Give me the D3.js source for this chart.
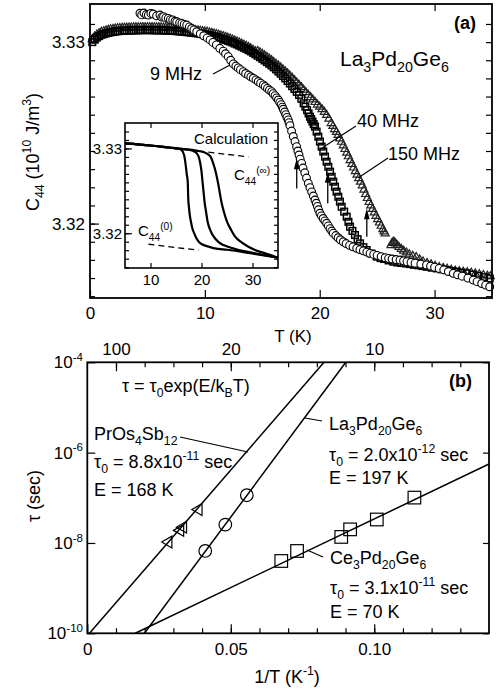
<!DOCTYPE html>
<html>
<head>
<meta charset="utf-8">
<script src="https://cdn.jsdelivr.net/npm/d3@7"></script>
<style>
  body { margin: 0; background: #fff; }
  svg text { font-family: "Liberation Sans", Arial, sans-serif; fill: #000; white-space: pre; }
  .axis path { display: none; }
  .axis line { stroke: #000; stroke-width: 1.2; }
</style>
</head>
<body>
<div id="chart"></div>
<script>
// ---------- panel (a) data : C44 (10^10 J/m^3) vs T (K) ----------
var mhz9T = [4.35, 4.5, 4.7, 4.9, 5.08, 5.3, 5.5, 5.8, 6.09, 6.25, 6.4, 6.6, 6.82, 7.0, 7.2, 7.4, 7.55, 7.8, 8.0,
  8.2, 8.42, 8.65, 8.85, 9.05, 9.29, 9.6, 9.9, 10.2, 10.45, 10.7, 11.0, 11.3, 11.6, 11.8, 12.04, 12.25, 12.48,
  12.7, 12.9, 13.1, 13.35, 13.55, 13.8, 14.0, 14.22, 14.45, 14.65, 14.85, 15.09, 15.25, 15.45, 15.62, 15.82,
  15.95, 16.11, 16.25, 16.4, 16.52, 16.65, 16.75, 16.83, 16.95, 17.05, 17.15, 17.26, 17.33, 17.41, 17.55, 17.7,
  17.85, 17.99, 18.1, 18.2, 18.3, 18.43, 18.55, 18.7, 18.85, 19.01, 19.15, 19.3, 19.45, 19.59, 19.7, 19.8, 19.9,
  20.02, 20.15, 20.3, 20.45, 20.6, 20.75, 20.9, 21.05, 21.18, 21.4, 21.6, 21.8, 22.05, 22.3, 22.6, 22.9, 23.22,
  23.5, 23.8, 24.1, 24.38, 24.7, 25.0, 25.35, 25.7, 26.0, 26.3, 26.65, 26.99, 27.3, 27.6, 27.95, 28.3, 28.8,
  29.3, 29.65, 30.0, 30.4, 30.8, 31.2, 31.63, 32.0, 32.4, 32.9, 33.37, 33.7, 34.1, 34.45, 34.8];
var mhz9C = [3.33159, 3.33150, 3.33160, 3.33152, 3.33149, 3.33158, 3.33155, 3.33145, 3.33149, 3.33138, 3.33140,
  3.33133, 3.33131, 3.33124, 3.33122, 3.33115, 3.33112, 3.33106, 3.33103, 3.33098, 3.33094, 3.33084, 3.33075,
  3.33067, 3.33057, 3.33046, 3.33035, 3.33023, 3.33012, 3.32998, 3.32985, 3.32966, 3.32950, 3.32936, 3.32920,
  3.32900, 3.32880, 3.32868, 3.32858, 3.32848, 3.32837, 3.32827, 3.32818, 3.32809, 3.32801, 3.32792, 3.32783,
  3.32774, 3.32764, 3.32755, 3.32745, 3.32736, 3.32727, 3.32716, 3.32705, 3.32693, 3.32681, 3.32668, 3.32655,
  3.32642, 3.32630, 3.32615, 3.32600, 3.32585, 3.32571, 3.32556, 3.32540, 3.32510, 3.32480, 3.32452, 3.32424,
  3.32400, 3.32378, 3.32355, 3.32332, 3.32306, 3.32280, 3.32251, 3.32222, 3.32198, 3.32175, 3.32152, 3.32130,
  3.32112, 3.32095, 3.32076, 3.32057, 3.32042, 3.32028, 3.32015, 3.32002, 3.31987, 3.31972, 3.31959, 3.31947,
  3.31934, 3.31922, 3.31911, 3.31900, 3.31890, 3.31880, 3.31872, 3.31864, 3.31857, 3.31850, 3.31843, 3.31836,
  3.31830, 3.31825, 3.31818, 3.31812, 3.31808, 3.31805, 3.31802, 3.31799, 3.31795, 3.31790, 3.31786, 3.31782,
  3.31777, 3.31772, 3.31766, 3.31760, 3.31753, 3.31745, 3.31736, 3.31726, 3.31718, 3.31710, 3.31700, 3.31689,
  3.31680, 3.31670, 3.31661, 3.31652];

// low-T band readings shared by the 40 MHz and 150 MHz runs
var bandT = [0.2, 0.4, 0.6, 0.8, 1.0, 1.2, 1.4, 1.6, 1.8, 2.0, 2.2, 2.4, 2.6, 2.8, 3.0, 3.2, 3.4, 3.6, 3.8, 4.0,
  4.2, 4.4, 4.6, 4.8, 5.0, 5.2, 5.4, 5.6, 5.8, 6.0, 6.2, 6.4, 6.6, 6.8, 7.0, 7.2, 7.4, 7.6, 7.8, 8.0, 8.2, 8.4,
  8.6, 8.8, 9.0, 9.2, 9.4, 9.6, 9.8, 10.0, 10.2, 10.4, 10.6, 10.8, 11.0, 11.2, 11.4, 11.6, 11.8, 12.0, 12.2,
  12.4, 12.6, 12.8, 13.0, 13.2, 13.4, 13.6, 13.8, 14.0, 14.2, 14.4];

var mhz40T = bandT.concat([14.6, 14.8, 15.0, 15.2, 15.4, 15.6, 15.8, 16.0, 16.2, 16.4, 16.6, 16.8, 17.0, 17.2,
  17.4, 17.6, 17.8, 18.0, 18.2, 18.4, 18.6, 18.75, 18.9, 19.03, 19.15, 19.26, 19.37, 19.48, 19.59, 19.73, 19.88,
  20.02, 20.17, 20.31, 20.46, 20.6, 20.75, 20.9, 21.04, 21.18, 21.33, 21.47, 21.62, 21.76, 21.91, 22.13, 22.35,
  22.5, 22.64, 22.85, 23.07, 23.3, 23.51, 23.8, 24.09, 24.5, 24.96, 25.3, 25.6, 26.0, 26.41, 26.75, 27.1, 27.5,
  27.86, 28.2, 28.6, 28.95, 29.31, 29.75, 30.2, 30.6, 31.05, 31.5, 31.9, 32.35, 32.8, 33.3, 33.8, 34.3, 34.8]);
var mhz40C = [3.33000, 3.33014, 3.33025, 3.33033, 3.33040, 3.33044, 3.33048, 3.33051, 3.33054, 3.33056, 3.33058,
  3.33060, 3.33061, 3.33062, 3.33063, 3.33063, 3.33064, 3.33064, 3.33065, 3.33065, 3.33065, 3.33066, 3.33066,
  3.33066, 3.33066, 3.33066, 3.33066, 3.33065, 3.33065, 3.33065, 3.33065, 3.33064, 3.33064, 3.33063, 3.33062,
  3.33062, 3.33061, 3.33060, 3.33059, 3.33058, 3.33057, 3.33055, 3.33054, 3.33052, 3.33051, 3.33049, 3.33048,
  3.33046, 3.33044, 3.33042, 3.33040, 3.33037, 3.33034, 3.33031, 3.33028, 3.33024, 3.33020, 3.33016, 3.33012,
  3.33007, 3.33003, 3.32998, 3.32992, 3.32987, 3.32981, 3.32975, 3.32969, 3.32963, 3.32956, 3.32949, 3.32941,
  3.32933,
  3.32925, 3.32917, 3.32908, 3.32899, 3.32890, 3.32881, 3.32871, 3.32861, 3.32850, 3.32838, 3.32826, 3.32813,
  3.32800, 3.32786, 3.32772, 3.32757, 3.32742, 3.32726, 3.32709, 3.32688, 3.32663, 3.32644, 3.32625, 3.32607,
  3.32589, 3.32576, 3.32562, 3.32548, 3.32534, 3.32507, 3.32479, 3.32452, 3.32424, 3.32397, 3.32369, 3.32341,
  3.32313, 3.32286, 3.32258, 3.32231, 3.32203, 3.32176, 3.32148, 3.32121, 3.32093, 3.32066, 3.32038, 3.32010,
  3.31983, 3.31960, 3.31937, 3.31914, 3.31891, 3.31870, 3.31854, 3.31835, 3.31818, 3.31810, 3.31805, 3.31797,
  3.31790, 3.31786, 3.31783, 3.31780, 3.31777, 3.31773, 3.31770, 3.31766, 3.31762, 3.31757, 3.31753, 3.31748,
  3.31744, 3.31739, 3.31735, 3.31730, 3.31726, 3.31719, 3.31712, 3.31705, 3.31698];

var mhz150T = bandT.concat([14.6, 14.8, 15.0, 15.2, 15.4, 15.6, 15.8, 16.0, 16.2, 16.4, 16.6, 16.8, 17.0, 17.2,
  17.4, 17.6, 17.8, 18.0, 18.2, 18.4, 18.6, 18.8, 19.0, 19.2, 19.4, 19.6, 19.8, 20.0, 20.2, 20.4, 20.6, 20.8,
  21.0, 21.15, 21.3, 21.45, 21.6, 21.75, 21.9, 22.05, 22.2, 22.35, 22.5, 22.65, 22.8, 22.95, 23.1, 23.25, 23.4,
  23.55, 23.7, 23.85, 24.0, 24.15, 24.3, 24.45, 24.6, 24.75, 24.9, 25.05, 25.2, 25.35, 25.5, 25.6, 25.7,
  26.2, 26.3, 26.4, 26.5, 26.6, 26.75, 26.9, 27.1, 27.3, 27.55, 27.8, 28.1, 28.4, 28.7, 29.0, 29.35, 29.7,
  30.05, 30.4, 30.75, 31.1, 31.45, 31.8, 32.15, 32.5, 32.85, 33.2, 33.55, 33.9, 34.25, 34.6, 34.85]);
var mhz150C = [3.33016, 3.33030, 3.33041, 3.33049, 3.33056, 3.33060, 3.33064, 3.33067, 3.33070, 3.33072, 3.33074,
  3.33076, 3.33077, 3.33078, 3.33079, 3.33079, 3.33080, 3.33080, 3.33081, 3.33081, 3.33081, 3.33082, 3.33082,
  3.33082, 3.33082, 3.33082, 3.33082, 3.33081, 3.33081, 3.33081, 3.33081, 3.33080, 3.33080, 3.33079, 3.33078,
  3.33078, 3.33077, 3.33076, 3.33075, 3.33074, 3.33073, 3.33071, 3.33070, 3.33068, 3.33067, 3.33065, 3.33064,
  3.33062, 3.33060, 3.33058, 3.33056, 3.33053, 3.33050, 3.33047, 3.33044, 3.33040, 3.33036, 3.33032, 3.33028,
  3.33023, 3.33019, 3.33014, 3.33008, 3.33003, 3.32997, 3.32991, 3.32985, 3.32979, 3.32972, 3.32965, 3.32957,
  3.32949,
  3.32950, 3.32943, 3.32935, 3.32927, 3.32918, 3.32909, 3.32900, 3.32890, 3.32880, 3.32870, 3.32860, 3.32849,
  3.32838, 3.32827, 3.32815, 3.32803, 3.32790, 3.32777, 3.32764, 3.32751, 3.32737, 3.32723, 3.32709, 3.32696,
  3.32683, 3.32669, 3.32655, 3.32643, 3.32630, 3.32615, 3.32598, 3.32577, 3.32553, 3.32537, 3.32520, 3.32504,
  3.32488, 3.32469, 3.32450, 3.32430, 3.32410, 3.32390, 3.32370, 3.32349, 3.32328, 3.32308, 3.32288, 3.32269,
  3.32250, 3.32230, 3.32210, 3.32186, 3.32162, 3.32140, 3.32118, 3.32099, 3.32080, 3.32061, 3.32042, 3.32024,
  3.32005, 3.31987, 3.31968, 3.31956, 3.31945,
  3.31880, 3.31892, 3.31900, 3.31896, 3.31890, 3.31880, 3.31870, 3.31860, 3.31850, 3.31840, 3.31830, 3.31822,
  3.31815, 3.31802, 3.31790, 3.31782, 3.31775, 3.31767, 3.31760, 3.31755, 3.31750, 3.31745, 3.31740, 3.31737,
  3.31734, 3.31731, 3.31728, 3.31724, 3.31720, 3.31716, 3.31712, 3.31709];

// arrows marking the transition temperatures
var arrowT = [18.0, 20.7, 24.1];
var arrowFrom = [3.32194, 3.32112, 3.31928];
var arrowTo = [3.32360, 3.32286, 3.32084];

// ---------- inset data : calculation ----------
var calc1T = [5, 10, 14, 15.3, 16.1, 16.6, 16.9, 17.1, 17.3, 17.4, 17.55, 17.7, 17.95, 18.2, 18.6, 19.0, 19.6, 20.4, 21.5, 22.6, 25, 28, 31, 35];
var calc1C = [3.3306, 3.33035, 3.33008, 3.33, 3.32981, 3.3292, 3.32804, 3.32700, 3.32607, 3.32411, 3.3230, 3.32215, 3.3213, 3.32058, 3.31995, 3.3194, 3.3189, 3.31861, 3.3184, 3.31822, 3.31805, 3.3178, 3.3175, 3.31711];
var calc2T = [5, 10, 14, 16, 17.5, 18.7, 19.4, 19.7, 20.0, 20.2, 20.4, 20.6, 20.9, 21.2, 21.7, 22.4, 23.3, 24.3, 25.8, 27.3, 30, 35];
var calc2C = [3.3306, 3.33035, 3.33008, 3.32995, 3.32985, 3.32961, 3.3291, 3.32843, 3.3273, 3.32607, 3.3249, 3.32371, 3.3225, 3.32136, 3.3204, 3.31959, 3.31898, 3.31861, 3.31828, 3.31802, 3.3177, 3.31711];
var calc3T = [5, 10, 14, 16, 19, 21.0, 21.8, 22.3, 22.8, 23.2, 23.55, 23.9, 24.4, 25.0, 25.8, 26.6, 27.8, 29.2, 30.8, 32.5, 35];
var calc3C = [3.3306, 3.33035, 3.33008, 3.32995, 3.32975, 3.32942, 3.3290, 3.32824, 3.3272, 3.32607, 3.3249, 3.32371, 3.3225, 3.32136, 3.3204, 3.31959, 3.31895, 3.31841, 3.31795, 3.31763, 3.31711];
var calcInfT = [19.4, 29.2];
var calcInfC = [3.3297, 3.3290];
var calcZeroT = [9.6, 19.4];
var calcZeroC = [3.3187, 3.3180];

// ---------- panel (b) data : tau (sec) vs 1/T (1/K) ----------
var prOsX = [0.0283, 0.0324, 0.0334, 0.0388];
var prOsTau = [1.05e-8, 1.9e-8, 2.24e-8, 5.5e-8];
var laX = [0.0411, 0.0481, 0.0556];
var laTau = [6.65e-9, 2.55e-8, 1.14e-7];
var ceX = [0.0676, 0.0731, 0.0885, 0.0916, 0.1009, 0.114];
var ceTau = [3.99e-9, 6.65e-9, 1.36e-8, 2.0e-8, 3.31e-8, 1.01e-7];

// fitted Arrhenius lines, end points as drawn
var prOsFitX = [0.00076, 0.0825], prOsFitTau = [1e-10, 1e-4];
var laFitX = [0.0199, 0.0901], laFitTau = [1e-10, 1e-4];
var ceFitX = [0.0167, 0.14], ceFitTau = [1e-10, 5.6e-7];

var svg = d3.select("#chart").append("svg")
  .attr("width", 496)
  .attr("height", 689);

// text helper: parts = [[string, ""|"sub"|"sup"], ...]
function addRich(text, parts, fs) {
  var shift = 0;
  parts.forEach(function (p) {
    var target = p[1] === "sub" ? fs * 0.3 : (p[1] === "sup" ? -fs * 0.42 : 0);
    text.append("tspan")
      .attr("dy", target - shift)
      .attr("font-size", p[1] ? fs * 0.68 : fs)
      .text(p[0]);
    shift = target;
  });
  return text;
}

function label(g, x, y, parts, fs, anchor) {
  var t = g.append("text")
    .attr("x", x)
    .attr("y", y)
    .attr("font-size", fs)
    .attr("text-anchor", anchor || "start");
  return addRich(t, parts, fs);
}

function leader(g, x1, y1, x2, y2) {
  g.append("line")
    .attr("x1", x1).attr("y1", y1)
    .attr("x2", x2).attr("y2", y2)
    .attr("stroke", "#000")
    .attr("stroke-width", 1.2);
}

function zip(xs, ys) {
  return xs.map(function (d, i) { return [d, ys[i]]; });
}

// =================== panel (a) ===================
var xA = d3.scaleLinear().domain([0, 35]).range([90, 492]);
var yA = d3.scaleLinear().domain([3.3159, 3.3321]).range([298, 4]);
var gA = svg.append("g");

var minorA = d3.range(3316, 3332).map(d => d / 1000);

gA.append("g").attr("class", "axis")
  .attr("transform", "translate(90,0)")
  .call(d3.axisLeft(yA).tickValues(minorA).tickSize(-5).tickSizeOuter(0).tickFormat(""));
gA.append("g").attr("class", "axis")
  .attr("transform", "translate(90,0)")
  .call(d3.axisLeft(yA).tickValues([3.32, 3.33]).tickSize(-9).tickSizeOuter(0).tickPadding(5)
    .tickFormat(d3.format(".2f")))
  .selectAll("text").attr("font-size", 17).attr("fill", "#000");
gA.append("g").attr("class", "axis")
  .attr("transform", "translate(492,0)")
  .call(d3.axisRight(yA).tickValues(minorA).tickSize(-6).tickSizeOuter(0).tickFormat(""));
gA.append("g").attr("class", "axis")
  .attr("transform", "translate(0,298)")
  .call(d3.axisBottom(xA).tickValues([0, 10, 20, 30]).tickSize(-8).tickSizeOuter(0).tickPadding(9))
  .selectAll("text").attr("font-size", 17).attr("fill", "#000");
gA.append("g").attr("class", "axis")
  .attr("transform", "translate(0,4)")
  .call(d3.axisTop(xA).tickValues([10, 20, 30]).tickSize(-7).tickSizeOuter(0).tickFormat(""));

// 150 MHz triangles
gA.append("g").selectAll("path")
  .data(zip(mhz150T, mhz150C))
  .enter()
  .append("path")
  .attr("d", d3.symbol().type(d3.symbolTriangle).size(28))
  .attr("transform", d => `translate(${xA(d[0])},${yA(d[1])})`)
  .attr("fill", "none")
  .attr("stroke", "#222")
  .attr("stroke-width", 1.2);

// 40 MHz squares
gA.append("g").selectAll("rect")
  .data(zip(mhz40T, mhz40C))
  .enter()
  .append("rect")
  .attr("x", d => xA(d[0]) - 3.3)
  .attr("y", d => yA(d[1]) - 3.3)
  .attr("width", 6.6)
  .attr("height", 6.6)
  .attr("fill", "none")
  .attr("stroke", "#000")
  .attr("stroke-width", 1.5);

// 9 MHz circles
gA.append("g").selectAll("circle")
  .data(zip(mhz9T, mhz9C))
  .enter()
  .append("circle")
  .attr("cx", d => xA(d[0]))
  .attr("cy", d => yA(d[1]))
  .attr("r", 3.9)
  .attr("fill", "#fff")
  .attr("stroke", "#000")
  .attr("stroke-width", 1.1);

// arrows
arrowT.forEach(function (t, i) {
  var x = xA(t), y0 = yA(arrowFrom[i]), y1 = yA(arrowTo[i]);
  gA.append("line")
    .attr("x1", x).attr("y1", y0)
    .attr("x2", x).attr("y2", y1 + 6)
    .attr("stroke", "#000").attr("stroke-width", 1.3);
  gA.append("path")
    .attr("d", `M${x},${y1} L${x - 2.8},${y1 + 11} L${x + 2.8},${y1 + 11} Z`)
    .attr("fill", "#000");
});

gA.append("rect")
  .attr("x", 90).attr("y", 4)
  .attr("width", 402).attr("height", 294)
  .attr("fill", "none").attr("stroke", "#000").attr("stroke-width", 1.8);

// labels panel (a)
label(gA, 150, 80, [["9 MHz", ""]], 18);
leader(gA, 213, 74, 230, 65);
label(gA, 357, 127, [["40 MHz", ""]], 18);
leader(gA, 356, 126, 322, 148);
label(gA, 388, 160, [["150 MHz", ""]], 18);
leader(gA, 388, 158, 358, 178);
label(gA, 340, 66, [["La", ""], ["3", "sub"], ["Pd", ""], ["20", "sub"], ["Ge", ""], ["6", "sub"]], 21);
label(gA, 454, 29, [["(a)", ""]], 18).attr("font-weight", "bold");
label(gA, 293, 342, [["T (K)", ""]], 17, "middle");
label(gA, 0, 0, [["C", ""], ["44", "sub"], [" (10", ""], ["10", "sup"], [" J/m", ""], ["3", "sup"], [")", ""]], 18, "middle")
  .attr("transform", "translate(39,152) rotate(-90)");

// =================== inset ===================
var xI = d3.scaleLinear().domain([5, 35]).range([125, 278]);
var yI = d3.scaleLinear().domain([3.3159, 3.3330]).range([268, 123]);
var gI = svg.append("g");

gI.append("rect")
  .attr("x", 125).attr("y", 123)
  .attr("width", 153).attr("height", 145)
  .attr("fill", "#fff");

var minorI = d3.range(3316, 3333).map(d => d / 1000);
gI.append("g").attr("class", "axis")
  .attr("transform", "translate(125,0)")
  .call(d3.axisLeft(yI).tickValues(minorI).tickSize(-4).tickSizeOuter(0).tickFormat(""));
gI.append("g").attr("class", "axis")
  .attr("transform", "translate(125,0)")
  .call(d3.axisLeft(yI).tickValues([3.32, 3.33]).tickSize(-7).tickSizeOuter(0).tickPadding(3)
    .tickFormat(d3.format(".2f")))
  .selectAll("text").attr("font-size", 15).attr("fill", "#000");
gI.append("g").attr("class", "axis")
  .attr("transform", "translate(278,0)")
  .call(d3.axisRight(yI).tickValues(minorI).tickSize(-4).tickSizeOuter(0).tickFormat(""));
gI.append("g").attr("class", "axis")
  .attr("transform", "translate(0,268)")
  .call(d3.axisBottom(xI).tickValues([10, 20, 30]).tickSize(-5).tickSizeOuter(0).tickPadding(6))
  .selectAll("text").attr("font-size", 15).attr("fill", "#000");
gI.append("g").attr("class", "axis")
  .attr("transform", "translate(0,123)")
  .call(d3.axisTop(xI).tickValues([10, 20, 30]).tickSize(-5).tickSizeOuter(0).tickFormat(""));

var calcLine = d3.line()
  .x(d => xI(d[0]))
  .y(d => yI(d[1]))
  .curve(d3.curveMonotoneX);

[[calc1T, calc1C], [calc2T, calc2C], [calc3T, calc3C]].forEach(function (c) {
  gI.append("path")
    .attr("d", calcLine(zip(c[0], c[1])))
    .attr("fill", "none")
    .attr("stroke", "#000")
    .attr("stroke-width", 2.2);
});
[[calcInfT, calcInfC], [calcZeroT, calcZeroC]].forEach(function (c) {
  gI.append("path")
    .attr("d", calcLine(zip(c[0], c[1])))
    .attr("fill", "none")
    .attr("stroke", "#000")
    .attr("stroke-width", 1.3)
    .attr("stroke-dasharray", "6,4");
});

gI.append("rect")
  .attr("x", 125).attr("y", 123)
  .attr("width", 153).attr("height", 145)
  .attr("fill", "none").attr("stroke", "#000").attr("stroke-width", 1.6);

label(gI, 194, 144, [["Calculation", ""]], 15);
label(gI, 234, 180, [["C", ""], ["44", "sub"], ["(∞)", "sup"]], 15);
label(gI, 138, 236, [["C", ""], ["44", "sub"], ["(0)", "sup"]], 15);

// =================== panel (b) ===================
var xB = d3.scaleLinear().domain([0, 0.14]).range([87.3, 489]);
var yB = d3.scaleLog().domain([1e-10, 1e-4]).range([633.3, 362.3]);
var gB = svg.append("g");

var minorB = d3.range(1, 14).map(d => d / 100);
gB.append("g").attr("class", "axis")
  .attr("transform", "translate(0,633.3)")
  .call(d3.axisBottom(xB).tickValues(minorB).tickSize(-5).tickSizeOuter(0).tickFormat(""));
gB.append("g").attr("class", "axis")
  .attr("transform", "translate(0,633.3)")
  .call(d3.axisBottom(xB).tickValues([0, 0.05, 0.1]).tickSize(-9).tickSizeOuter(0).tickPadding(10)
    .tickFormat(d => d === 0 ? "0" : d3.format(".2f")(d)))
  .selectAll("text").attr("font-size", 17).attr("fill", "#000");
gB.append("g").attr("class", "axis")
  .attr("transform", "translate(0,362.3)")
  .call(d3.axisTop(xB).tickValues(minorB).tickSize(-5).tickSizeOuter(0).tickFormat(""));
gB.append("g").attr("class", "axis")
  .attr("transform", "translate(0,362.3)")
  .call(d3.axisTop(xB).tickValues([0.01, 0.05, 0.1]).tickSize(-9).tickSizeOuter(0).tickPadding(7)
    .tickFormat(d => Math.round(1 / d)))
  .selectAll("text").attr("font-size", 17).attr("fill", "#000");

var decadesB = [1e-10, 1e-8, 1e-6, 1e-4];
gB.append("g").attr("class", "axis")
  .attr("transform", "translate(87.3,0)")
  .call(d3.axisLeft(yB).tickValues(decadesB).tickSize(-8).tickSizeOuter(0).tickFormat(""));
gB.append("g").attr("class", "axis")
  .attr("transform", "translate(489,0)")
  .call(d3.axisRight(yB).tickValues(decadesB).tickSize(-6).tickSizeOuter(0).tickFormat(""));
decadesB.forEach(function (d) {
  label(gB, 83, yB(d) + 6, [["10", ""], [String(Math.round(Math.log10(d))), "sup"]], 17, "end");
});

// fit lines
var fitLine = d3.line()
  .x(d => xB(d[0]))
  .y(d => yB(d[1]));
[[prOsFitX, prOsFitTau], [laFitX, laFitTau], [ceFitX, ceFitTau]].forEach(function (f) {
  gB.append("path")
    .attr("d", fitLine(zip(f[0], f[1])))
    .attr("fill", "none")
    .attr("stroke", "#000")
    .attr("stroke-width", 1.5);
});

// PrOs4Sb12 triangles
gB.append("g").selectAll("path")
  .data(zip(prOsX, prOsTau))
  .enter()
  .append("path")
  .attr("d", d3.symbol().type(d3.symbolTriangle).size(60))
  .attr("transform", d => `translate(${xB(d[0])},${yB(d[1])}) rotate(-90)`)
  .attr("fill", "none")
  .attr("stroke", "#000")
  .attr("stroke-width", 1.2);

// La3Pd20Ge6 circles
gB.append("g").selectAll("circle")
  .data(zip(laX, laTau))
  .enter()
  .append("circle")
  .attr("cx", d => xB(d[0]))
  .attr("cy", d => yB(d[1]))
  .attr("r", 6.3)
  .attr("fill", "none")
  .attr("stroke", "#000")
  .attr("stroke-width", 1.2);

// Ce3Pd20Ge6 squares
gB.append("g").selectAll("rect")
  .data(zip(ceX, ceTau))
  .enter()
  .append("rect")
  .attr("x", d => xB(d[0]) - 6.3)
  .attr("y", d => yB(d[1]) - 6.3)
  .attr("width", 12.6)
  .attr("height", 12.6)
  .attr("fill", "none")
  .attr("stroke", "#000")
  .attr("stroke-width", 1.2);

gB.append("rect")
  .attr("x", 87.3).attr("y", 362.3)
  .attr("width", 401.7).attr("height", 271)
  .attr("fill", "none").attr("stroke", "#000").attr("stroke-width", 1.8);

// labels panel (b)
label(gB, 122, 392, [["τ = τ", ""], ["0", "sub"], ["exp(E/k", ""], ["B", "sub"], ["T)", ""]], 18);
label(gB, 449, 387, [["(b)", ""]], 18).attr("font-weight", "bold");

label(gB, 94, 440, [["PrOs", ""], ["4", "sub"], ["Sb", ""], ["12", "sub"]], 18);
leader(gB, 180, 437, 248, 452);
label(gB, 94, 468, [["τ", ""], ["0", "sub"], [" = 8.8x10", ""], ["-11", "sup"], [" sec", ""]], 18);
label(gB, 94, 496, [["E = 168 K", ""]], 18);

label(gB, 329, 430, [["La", ""], ["3", "sub"], ["Pd", ""], ["20", "sub"], ["Ge", ""], ["6", "sub"]], 18);
leader(gB, 305, 418, 322, 421);
label(gB, 329, 461, [["τ", ""], ["0", "sub"], [" = 2.0x10", ""], ["-12", "sup"], [" sec", ""]], 18);
label(gB, 329, 484, [["E = 197 K", ""]], 18);

label(gB, 330, 564, [["Ce", ""], ["3", "sub"], ["Pd", ""], ["20", "sub"], ["Ge", ""], ["6", "sub"]], 18);
leader(gB, 307, 550, 323, 557);
label(gB, 330, 594, [["τ", ""], ["0", "sub"], [" = 3.1x10", ""], ["-11", "sup"], [" sec", ""]], 18);
label(gB, 330, 618, [["E = 70 K", ""]], 18);

label(gB, 287, 683, [["1/T (K", ""], ["-1", "sup"], [")", ""]], 18, "middle");
label(gB, 0, 0, [["τ (sec)", ""]], 18, "middle")
  .attr("transform", "translate(40,496) rotate(-90)");
</script>
</body>
</html>
